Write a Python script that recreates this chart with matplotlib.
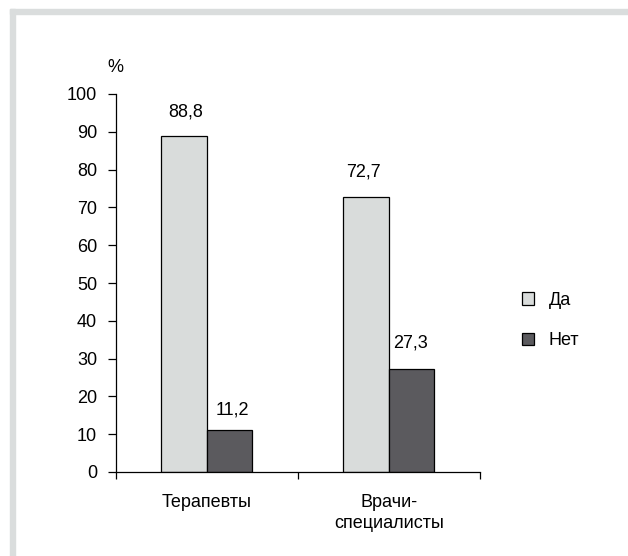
import matplotlib.pyplot as plt
import numpy as np
from matplotlib.patches import Rectangle

groups = ['Терапевты', 'Врачи-\nспециалисты']
series = ['Да', 'Нет']
yes_vals = [88.8, 72.7]
no_vals = [11.2, 27.3]
# label offsets in pixels (dx, dy) from the bar top centre
yes_offsets = [(1, 24), (-3, 25)]
no_offsets = [(3, 20), (-1, 26)]

light = '#d9dcdb'
dark = '#5b5a5e'


def main() -> None:
    plt.rcParams['font.family'] = ['Liberation Sans', 'DejaVu Sans']
    fig = plt.figure(figsize=(6.28, 5.56), dpi=100)

    # L-shaped grey frame at the top and left
    fig.patches.append(Rectangle((10 / 628, 1 - 14 / 556), 1, 5 / 556,
                                 transform=fig.transFigure, color='#dadddd', zorder=0))
    fig.patches.append(Rectangle((10 / 628, 0), 5 / 628, 1 - 9 / 556,
                                 transform=fig.transFigure, color='#dadddd', zorder=0))

    ax = fig.add_axes([116 / 628, 1 - 472 / 556, 364 / 628, 378 / 556])
    x = np.arange(len(groups))
    w = 0.25
    b1 = ax.bar(x - w / 2, yes_vals, w, color=light, edgecolor='black', lw=0.9, label=series[0])
    b2 = ax.bar(x + w / 2, no_vals, w, color=dark, edgecolor='black', lw=0.9, label=series[1])

    for bars, vals, offs in ((b1, yes_vals, yes_offsets), (b2, no_vals, no_offsets)):
        for bar, v, (dx, dy) in zip(bars, vals, offs):
            ax.annotate(f'{v:.1f}'.replace('.', ','),
                        (bar.get_x() + bar.get_width() / 2, v),
                        xytext=(dx * 0.72, dy * 0.72), textcoords='offset points',
                        ha='center', va='center', fontsize=13)

    ax.set_xlim(-0.5, 1.5)
    ax.set_ylim(0, 100)
    ax.set_yticks(np.arange(0, 101, 10))
    ax.tick_params(axis='y', direction='out', length=5.5, width=0.9, labelsize=13, pad=8)
    ax.set_xticks([-0.5, 0.5, 1.5])
    ax.set_xticklabels([])
    ax.tick_params(axis='x', which='major', direction='out', length=5, width=0.9)
    ax.set_xticks(x, minor=True)
    ax.set_xticklabels(groups, minor=True, fontsize=13)
    ax.tick_params(axis='x', which='minor', length=0, pad=16)
    for lab in ax.get_xticklabels(minor=True):
        lab.set_linespacing(1.28)
    for s in ('top', 'right'):
        ax.spines[s].set_visible(False)
    for s in ('left', 'bottom'):
        ax.spines[s].set_linewidth(0.9)
    ax.text(-0.002, 1.07, '%', transform=ax.transAxes, ha='center', va='center', fontsize=13)

    ax.legend(loc='center left', bbox_to_anchor=(1.071, 0.401), frameon=False,
              handlelength=0.67, handleheight=0.67, labelspacing=1.28, fontsize=13,
              handletextpad=0.8)

    fig.savefig('out.png', dpi=100)


if __name__ == '__main__':
    main()
